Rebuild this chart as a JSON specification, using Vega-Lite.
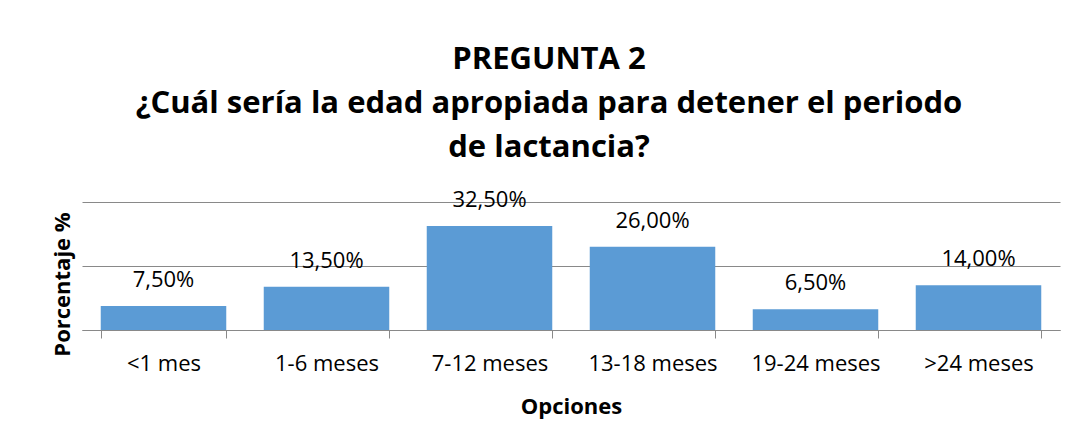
{
  "$schema": "https://vega.github.io/schema/vega-lite/v6.json",
  "width": 978,
  "height": 128,
  "autosize": {"type": "none"},
  "padding": {"left": 82, "top": 202, "right": 15, "bottom": 117},
  "background": "white",
  "title": {
    "text": ["PREGUNTA 2", "¿Cuál sería la edad apropiada para detener el periodo", "de lactancia?"],
    "fontSize": 31,
    "fontWeight": "bold",
    "color": "#000000",
    "anchor": "middle",
    "dx": -22,
    "lineHeight": 44,
    "offset": 25
  },
  "data": {
    "values": [
      {"opcion": "<1 mes", "valor": 7.5, "etiqueta": "7,50%"},
      {"opcion": "1-6 meses", "valor": 13.5, "etiqueta": "13,50%"},
      {"opcion": "7-12 meses", "valor": 32.5, "etiqueta": "32,50%"},
      {"opcion": "13-18 meses", "valor": 26.0, "etiqueta": "26,00%"},
      {"opcion": "19-24 meses", "valor": 6.5, "etiqueta": "6,50%"},
      {"opcion": ">24 meses", "valor": 14.0, "etiqueta": "14,00%"}
    ]
  },
  "encoding": {
    "x": {
      "field": "opcion",
      "type": "nominal",
      "sort": null,
      "scale": {"paddingInner": 0.23, "paddingOuter": 0.115},
      "axis": {
        "title": "Opciones",
        "labelAngle": 0,
        "labelFontSize": 22,
        "labelColor": "#000000",
        "labelPadding": 15,
        "tickBand": "extent",
        "tickSize": 8,
        "tickColor": "#898989",
        "domainColor": "#898989",
        "grid": false,
        "titleFontSize": 22,
        "titleFontWeight": "bold",
        "titleColor": "#000000",
        "titlePadding": 22
      }
    },
    "y": {
      "field": "valor",
      "type": "quantitative",
      "scale": {"domain": [0, 40], "nice": false},
      "axis": {
        "title": "Porcentaje %",
        "values": [0, 20, 40],
        "labels": false,
        "ticks": false,
        "domain": false,
        "grid": true,
        "gridColor": "#898989",
        "gridOpacity": 1,
        "titleFontSize": 22,
        "titleFontWeight": "bold",
        "titleColor": "#000000",
        "titleAngle": 270,
        "titleAlign": "center",
        "titleBaseline": "middle",
        "titleX": -20,
        "titleY": 82
      }
    }
  },
  "layer": [
    {"mark": {"type": "bar", "color": "#5B9BD5"}},
    {
      "mark": {"type": "text", "fontSize": 22, "color": "#000000", "baseline": "middle", "dy": -26},
      "encoding": {"text": {"field": "etiqueta"}}
    }
  ],
  "config": {
    "view": {"stroke": null},
    "font": "Open Sans"
  }
}
